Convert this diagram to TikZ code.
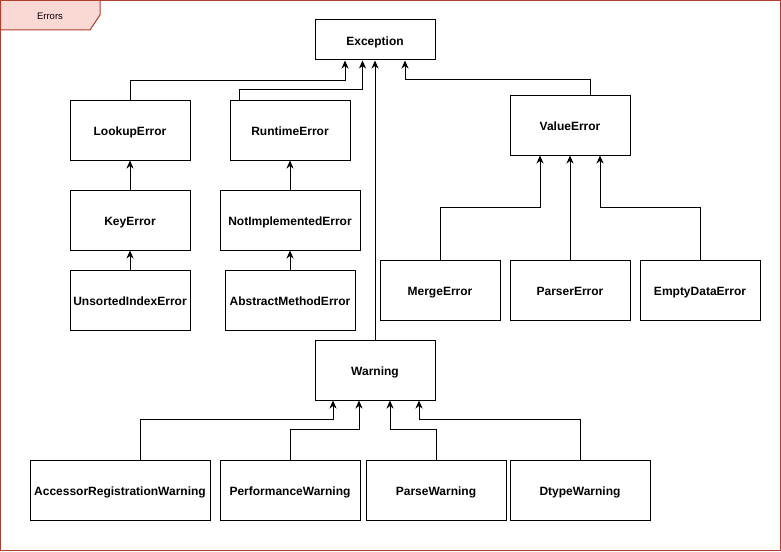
\documentclass[tikz,border=0pt]{standalone}
\usepackage{fontspec}
\setmainfont{Liberation Sans}
\usetikzlibrary{arrows.meta}
\definecolor{framered}{HTML}{AE4132}
\definecolor{tabfill}{HTML}{FAD9D5}
\begin{document}
\begin{tikzpicture}[x=1pt,y=-1pt,
  cls/.style={draw=black,line width=1pt,fill=white,inner sep=0pt,
    text height=11.5pt,text depth=0.5pt,
    font=\fontsize{12}{14}\selectfont\bfseries},
  arr/.style={line width=1pt,-{Stealth[length=8pt,width=7pt,inset=2.5pt]}}]
\useasboundingbox (0,0) rectangle (781,551);
\fill[white] (0,0) rectangle (781,551);
% outer frame with its name tab
\draw[framered,line width=1pt] (0.5,0.5) rectangle (780.5,550.5);
\draw[framered,line width=1pt,fill=tabfill] (0.5,0.5) -- (100,0.5) -- (100,15) -- (90,30) -- (0.5,30) -- cycle;
\node[font=\fontsize{9.5}{11}\selectfont,text height=7pt,text depth=1pt] (tab) at (50,16.5) {Errors};

% class boxes
\newcommand{\cbox}[6]{\node[cls,minimum width=#4pt,minimum height=#5pt] (#1) at (#2,#3) {#6};}
\cbox{exc}{375}{40}{120}{40}{Exception}
\cbox{lookup}{130}{130}{120}{60}{LookupError}
\cbox{runtime}{290}{130}{120}{60}{RuntimeError}
\cbox{value}{570}{125}{120}{60}{ValueError}
\cbox{key}{130}{220}{120}{60}{KeyError}
\cbox{notimpl}{290}{220}{140}{60}{NotImplementedError}
\cbox{unsorted}{130}{300}{120}{60}{UnsortedIndexError}
\cbox{abstract}{290}{300}{130}{60}{AbstractMethodError}
\cbox{merge}{440}{290}{120}{60}{MergeError}
\cbox{parser}{570}{290}{120}{60}{ParserError}
\cbox{empty}{700}{290}{120}{60}{EmptyDataError}
\cbox{warning}{375}{370}{120}{60}{Warning}
\cbox{accessor}{120}{490}{180}{60}{AccessorRegistrationWarning}
\cbox{perf}{290}{490}{140}{60}{PerformanceWarning}
\cbox{parsew}{436}{490}{140}{60}{ParseWarning}
\cbox{dtype}{580}{490}{140}{60}{DtypeWarning}

% inheritance arrows into Exception
\draw[arr] (lookup.north) -- (lookup.north |- 0,80) -| ([xshift=-30pt]exc.south);
\draw[arr] ([xshift=10pt]runtime.north west) -- ++(0,-10) -| ([xshift=-12.5pt]exc.south);
\draw[arr] (warning.north) -- (exc.south);
\draw[arr] ([xshift=20pt]value.north) -- ++(0,-15) -| ([xshift=30pt]exc.south);

% left chains
\draw[arr] (key.north) -- (lookup.south);
\draw[arr] (unsorted.north) -- (key.south);
\draw[arr] (notimpl.north) -- (runtime.south);
\draw[arr] (abstract.north) -- (notimpl.south);

% ValueError subclasses
\draw[arr] (merge.north) -- (merge.north |- 0,207.5) -| ([xshift=-30pt]value.south);
\draw[arr] (parser.north) -- (value.south);
\draw[arr] (empty.north) -- (empty.north |- 0,207.5) -| ([xshift=30pt]value.south);

% Warning subclasses
\draw[arr] ([xshift=20pt]accessor.north) -- ++(0,-40) -| ([xshift=-42pt]warning.south);
\draw[arr] (perf.north) -- ++(0,-30) -| ([xshift=-16pt]warning.south);
\draw[arr] (parsew.north) -- ++(0,-30) -| ([xshift=15pt]warning.south);
\draw[arr] (dtype.north) -- ++(0,-40) -| ([xshift=44pt]warning.south);
\end{tikzpicture}
\end{document}
